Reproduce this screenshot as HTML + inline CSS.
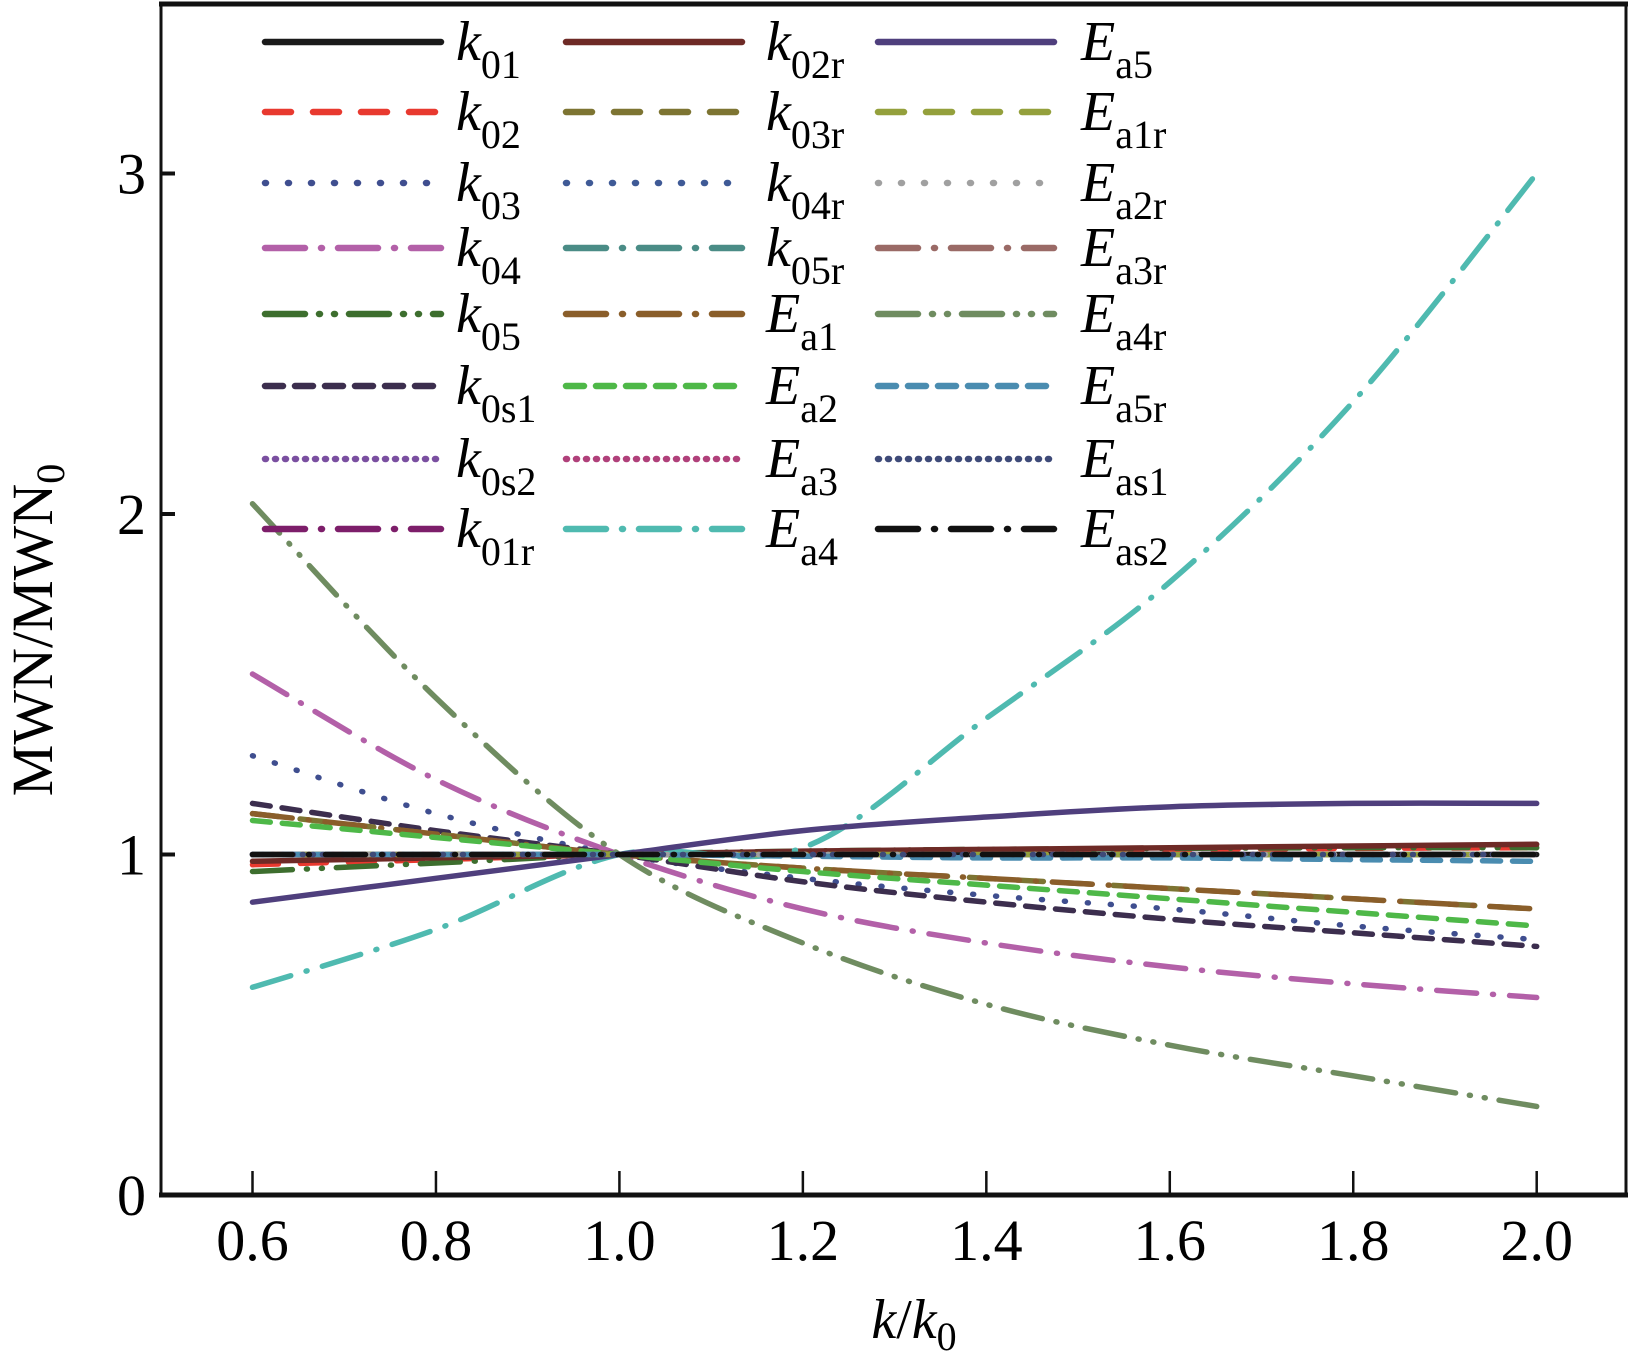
<!DOCTYPE html>
<html><head><meta charset="utf-8"><style>
html,body{margin:0;padding:0;background:#fff;}
svg{display:block;font-family:"Liberation Serif",serif;}
</style></head><body>
<svg id="chart" width="1629" height="1352" viewBox="0 0 1629 1352">
<g id="series"></g>
<g id="frame"></g>
<g id="legend"></g>
<text x="914" y="1338" text-anchor="middle" font-size="56" font-style="italic">k<tspan font-style="normal">/</tspan>k<tspan font-style="normal" font-size="40" dy="12">0</tspan></text>
<text transform="translate(52,630) rotate(-90)" text-anchor="middle" font-size="58">MWN/MWN<tspan font-size="40" dy="12">0</tspan></text>
</svg>
<script>
const xValues=[0.6,0.8,1.0,1.2,1.4,1.6,1.8,2.0];
const xTicks=["0.6","0.8","1.0","1.2","1.4","1.6","1.8","2.0"];
const yTicks=[0,1,2,3];
const seriesNames=["k01","k02","k03","k04","k05","k0s1","k0s2","k01r","k02r","k03r","k04r","k05r","Ea1","Ea2","Ea3","Ea4","Ea5","Ea1r","Ea2r","Ea3r","Ea4r","Ea5r","Eas1","Eas2"];
const k01=[1,1,1,1,1,1,1,1];
const k02=[0.97,0.985,1,1.005,1.01,1.015,1.018,1.02];
const k03=[1.29,1.12,1,0.93,0.88,0.84,0.79,0.75];
const k04=[1.53,1.22,1,0.84,0.74,0.67,0.62,0.58];
const k05=[0.95,0.975,1,1.01,1.015,1.018,1.02,1.02];
const k0s1=[1.15,1.07,1,0.92,0.86,0.81,0.77,0.73];
const k0s2=[1,1,1,1,1,1,1,1];
const k01r=[1,1,1,1,1,1,1,1];
const k02r=[0.98,0.99,1,1.01,1.015,1.02,1.025,1.03];
const k03r=[1.12,1.06,1,0.96,0.93,0.9,0.87,0.84];
const k04r=[1,1,1,1,1,1,1,1];
const k05r=[1,1,1,1,1,1,1,1];
const Ea1=[1.12,1.06,1,0.96,0.93,0.9,0.87,0.84];
const Ea2=[1.1,1.05,1,0.95,0.91,0.87,0.83,0.79];
const Ea3=[1,1,1,1,1,1,1,1];
const Ea4=[0.61,0.78,1,1.02,1.4,1.8,2.33,3.0];
const Ea5=[0.86,0.93,1,1.07,1.11,1.14,1.15,1.15];
const Ea1r=[1,1,1,1,1,1,1,1];
const Ea2r=[1,1,1,1,1,1,1,1];
const Ea3r=[1,1,1,1,1,1,1,1];
const Ea4r=[2.03,1.46,1,0.74,0.56,0.44,0.35,0.26];
const Ea5r=[1,1,1,0.995,0.99,0.99,0.985,0.98];
const Eas1=[1,1,1,1,1,1,1,1];
const Eas2=[1,1,1,1,1,1,1,1];
const seriesValues=[k01,k02,k03,k04,k05,k0s1,k0s2,k01r,k02r,k03r,k04r,k05r,Ea1,Ea2,Ea3,Ea4,Ea5,Ea1r,Ea2r,Ea3r,Ea4r,Ea5r,Eas1,Eas2];

const colors=["#1a1a1a","#e8392f","#3f4e8f","#b360a8","#3d6e2e","#3c2e4e","#7a4fa0","#7d1e6a","#6e2a26","#7d7432","#3f5a96","#4a8c86","#8a5e2a","#4eb848","#b0407a","#4fbab0","#4f3f7d","#94a03c","#a0a0a0","#9a6a66","#6f8c60","#4a8cb0","#3e4a78","#111111"];
const D={solid:"",dash:"26 22",dot:"1 22",dd:"40 16 1 16",ddd:"40 14 1 14 1 14",sdash:"18 12",fdot:"1 9"};
const styles=["solid","dash","dot","dd","ddd","sdash","fdot","dd","solid","dash","dot","dd","dd","sdash","fdot","dd","solid","dash","dot","dd","ddd","sdash","fdot","dd"];

const L=161,R=1626,T=3,B=1195;
const xs=v=>252.5+(v-0.6)/1.4*(1536.7-252.5);
const ys=v=>1195-v*340.5;
const NS="http://www.w3.org/2000/svg";
function mk(tag,attrs,parent){const e=document.createElementNS(NS,tag);for(const k in attrs)e.setAttribute(k,attrs[k]);parent.appendChild(e);return e;}

const fr=document.getElementById('frame');
let e=mk('rect',{x:L,y:T,width:R-L,height:B-T,fill:'none',stroke:'#111','stroke-width':3},fr);


e=mk('line',{x1:L-2,y1:B,x2:R+2,y2:B,stroke:'#111','stroke-width':5},fr);


e=mk('line',{x1:L-2,y1:T+1,x2:R+2,y2:T+1,stroke:'#111','stroke-width':5},fr);


xValues.forEach((v,i)=>{
  const t=mk('line',{x1:xs(v),y1:B,x2:xs(v),y2:B-24,stroke:'#111','stroke-width':2.5},fr);
  
  
  const tx=mk('text',{x:xs(v),y:1260,'text-anchor':'middle','font-size':58},fr);
  tx.textContent=xTicks[i];
  
  
});
yTicks.forEach(v=>{
  if(v>0){const t=mk('line',{x1:L,y1:ys(v),x2:L+14,y2:ys(v),stroke:'#111','stroke-width':4},fr);
  
  }
  const tx=mk('text',{x:146,y:ys(v)+20,'text-anchor':'end','font-size':58},fr);
  tx.textContent=String(v);
  
  
});

function smooth(vals){
  const p=vals.map((v,i)=>[xs(xValues[i]),ys(v)]);
  let d=`M${p[0][0]},${p[0][1]}`;
  for(let i=0;i<p.length-1;i++){
    const p0=p[i-1]||p[i],p1=p[i],p2=p[i+1],p3=p[i+2]||p2;
    const c1=[p1[0]+(p2[0]-p0[0])/6,p1[1]+(p2[1]-p0[1])/6];
    const c2=[p2[0]-(p3[0]-p1[0])/6,p2[1]-(p3[1]-p1[1])/6];
    d+=` C${c1[0]},${c1[1]} ${c2[0]},${c2[1]} ${p2[0]},${p2[1]}`;
  }
  return d;
}
const sg=document.getElementById('series');
seriesValues.forEach((vals,i)=>{
  const p=mk('path',{d:smooth(vals),fill:'none',stroke:colors[i],'stroke-width':5.5,'stroke-linecap':'round','stroke-dasharray':D[styles[i]]},sg);
  
  
});

const lg=document.getElementById('legend');
const colX=[265,566,878],labX=[456,766,1081];
const rowY=[42,112,183,248,314,386,459,529];
seriesNames.forEach((n,i)=>{
  const c=Math.floor(i/8),r=i%8,y=rowY[r];
  const ln=mk('line',{x1:colX[c],y1:y,x2:colX[c]+176,y2:y,stroke:colors[i],'stroke-width':6.5,'stroke-linecap':'round','stroke-dasharray':D[styles[i]]},lg);
  
  
  const tx=mk('text',{x:labX[c],y:y+18,'font-size':56},lg);
  
  
  const main=n[0], sub=n.slice(1);
  const a=mk('tspan',{'font-style':'italic'},tx);a.textContent=main;
  const b=mk('tspan',{'font-size':40,dy:18},tx);b.textContent=sub;
});
</script>
</body></html>
